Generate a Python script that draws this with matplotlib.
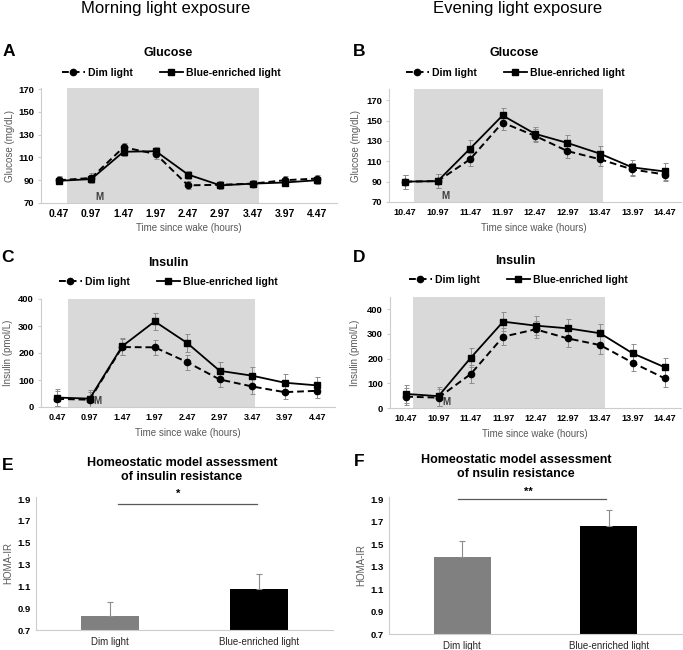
import numpy as np
import matplotlib
matplotlib.use('Agg')
import matplotlib.pyplot as plt

plt.rcParams['font.family'] = ['Liberation Sans', 'DejaVu Sans']

W, H = 683, 650

# --- data ---
morning_times = ['0.47', '0.97', '1.47', '1.97', '2.47', '2.97', '3.47', '3.97', '4.47']
evening_times = ['10.47', '10.97', '11.47', '11.97', '12.47', '12.97', '13.47', '13.97', '14.47']

glu_morning_dim = [90, 92, 119, 113, 85.5, 86, 87, 90, 91.5]
glu_morning_dim_err = [3.5, 4, 4, 4, 3.5, 3, 3, 3.5, 3.5]
glu_morning_blue = [89.5, 91, 115, 115.5, 95, 85.5, 87, 88, 90]
glu_morning_blue_err = [3, 3.5, 3.5, 3.5, 3.5, 3, 3, 3, 3]

glu_evening_dim = [90, 90.5, 112, 148, 135, 120, 112, 102, 97]
glu_evening_dim_err = [7, 7, 6.5, 7, 6.5, 6.5, 6.5, 6, 6.5]
glu_evening_blue = [90, 90.5, 122.5, 155, 137, 128, 117.5, 104, 100]
glu_evening_blue_err = [7, 7, 8, 7.5, 7, 8, 7.5, 7, 8]

ins_morning_dim = [30, 27, 222, 221, 166, 102, 76, 55, 60]
ins_morning_dim_err = [28, 28, 30, 29, 28, 27, 27, 27, 27]
ins_morning_blue = [35, 31, 225, 317, 237, 134, 116, 90, 80]
ins_morning_blue_err = [32, 32, 32, 32, 32, 32, 32, 32, 32]

ins_evening_dim = [46, 42, 138, 289, 319, 282, 255, 184, 120]
ins_evening_dim_err = [35, 35, 35, 35, 35, 35, 35, 35, 35]
ins_evening_blue = [57, 48, 204, 350, 334, 323, 303, 222, 165]
ins_evening_blue_err = [38, 38, 38, 38, 38, 38, 38, 38, 38]

bar_groups = ['Dim light', 'Blue-enriched light']
homa_morning = [0.83, 1.08]
homa_morning_err = [0.125, 0.13]
homa_evening = [1.39, 1.665]
homa_evening_err = [0.14, 0.135]

GRAY_BAND = '#d9d9d9'
SPINE = '#cccccc'
LABEL_GRAY = '#595959'


def px_axes(fig, left, top, right, bottom):
    return fig.add_axes([left / W, 1 - bottom / H, (right - left) / W, (bottom - top) / H])


def fig_text(fig, x, y, s, **kw):
    fig.text(x / W, 1 - y / H, s, ha=kw.pop('ha', 'center'), va=kw.pop('va', 'center'), **kw)


def style_axes(ax):
    for side in ('top', 'right'):
        ax.spines[side].set_visible(False)
    for side in ('left', 'bottom'):
        ax.spines[side].set_color(SPINE)
        ax.spines[side].set_linewidth(0.8)


def line_panel(fig, box, times, dim, dim_err, blue, blue_err, ylim, yticks, ylabel,
               band, xlim, legend_xy, ylabel_x, xlabel_xy, xtick_size=6.5):
    ax = px_axes(fig, *box)
    style_axes(ax)
    x = np.arange(len(times))
    ax.axvspan(band[0], band[1], color=GRAY_BAND, lw=0, zorder=0)

    ax.errorbar(x, dim, yerr=dim_err, fmt='none', ecolor='#8c8c8c', elinewidth=0.7,
                capsize=1.8, capthick=0.7, zorder=2)
    ax.errorbar(x, blue, yerr=blue_err, fmt='none', ecolor='#8c8c8c', elinewidth=0.7,
                capsize=1.8, capthick=0.7, zorder=2)
    ax.plot(x, dim, ls=(0, (3.5, 2)), lw=1.4, color='black', marker='o', ms=4.5,
            label='Dim light', zorder=3)
    ax.plot(x, blue, ls='-', lw=1.3, color='black', marker='s', ms=4.8,
            label='Blue-enriched light', zorder=4)

    ax.set_xlim(*xlim)
    ax.set_ylim(*ylim)
    ax.set_xticks(x)
    ax.set_xticklabels(times, fontsize=xtick_size, fontweight='bold')
    ax.set_yticks(yticks)
    ax.set_yticklabels([str(t) for t in yticks], fontsize=6.8, fontweight='bold')
    ax.tick_params(axis='x', length=0, pad=4)
    ax.tick_params(axis='y', length=2, color=SPINE, pad=3)

    # the "M" (meal) marker just above the x axis
    ax.text(1.25, ylim[0] + 0.005 * (ylim[1] - ylim[0]), 'M', fontsize=7, fontweight='bold',
            color='#404040', ha='center', va='bottom', zorder=5)

    ax.legend(loc='center', bbox_to_anchor=(legend_xy[0] / W, 1 - legend_xy[1] / H),
              bbox_transform=fig.transFigure, ncol=2, frameon=False,
              prop={'weight': 'bold', 'size': 7.5}, handlelength=2.2,
              columnspacing=2.6, handletextpad=0.3, borderpad=0)
    fig_text(fig, ylabel_x, (box[1] + box[3]) / 2, ylabel, fontsize=7, color=LABEL_GRAY,
             rotation=90)
    fig_text(fig, xlabel_xy[0], xlabel_xy[1], 'Time since wake (hours)', fontsize=7,
             color=LABEL_GRAY)
    return ax


def bar_panel(fig, box, vals, errs, sig_span, sig_y, star, star_xy, title, title_xy, ylabel_x):
    ax = px_axes(fig, *box)
    style_axes(ax)
    x = np.arange(len(bar_groups))
    ax.bar(x, vals, width=0.39, color=['#808080', '#000000'], zorder=2,
           yerr=[[0] * len(errs), errs],
           error_kw=dict(ecolor='#8c8c8c', elinewidth=0.8, capsize=2, capthick=0.8))
    ax.set_xlim(-0.5, 1.5)
    ax.set_ylim(0.7, 1.92)
    yt = [0.7, 0.9, 1.1, 1.3, 1.5, 1.7, 1.9]
    ax.set_yticks(yt)
    ax.set_yticklabels(['%.1f' % t for t in yt], fontsize=6.8, fontweight='bold')
    ax.set_xticks(x)
    ax.set_xticklabels(bar_groups, fontsize=7, color='#262626')
    ax.tick_params(axis='x', length=0, pad=5)
    ax.tick_params(axis='y', length=0, pad=4)
    ax.plot(sig_span, [sig_y, sig_y], color='#595959', lw=0.9, clip_on=False)
    fig_text(fig, ylabel_x, (box[1] + box[3]) / 2, 'HOMA-IR', fontsize=7, color=LABEL_GRAY,
             rotation=90)
    fig_text(fig, star_xy[0], star_xy[1], star, fontsize=8, fontweight='bold')
    fig_text(fig, title_xy[0], title_xy[1], title, fontsize=9, fontweight='bold',
             linespacing=1.25)
    return ax


fig = plt.figure(figsize=(W / 100, H / 100), dpi=100)

fig_text(fig, 166, 8, 'Morning light exposure', fontsize=12)
fig_text(fig, 518, 8, 'Evening light exposure', fontsize=12)

# A: glucose, morning
line_panel(fig, (41, 88, 337, 203), morning_times, glu_morning_dim, glu_morning_dim_err,
           glu_morning_blue, glu_morning_blue_err, (70, 171), [70, 90, 110, 130, 150, 170],
           'Glucose (mg/dL)', (0.25, 6.2), (-0.56, 8.62), (171, 73), 10, (189, 228),
           xtick_size=7.5)
fig_text(fig, 168, 53, 'Glucose', fontsize=9, fontweight='bold')

# B: glucose, evening
line_panel(fig, (389, 89, 681, 202), evening_times, glu_evening_dim, glu_evening_dim_err,
           glu_evening_blue, glu_evening_blue_err, (70, 181), [70, 90, 110, 130, 150, 170],
           'Glucose (mg/dL)', (0.28, 6.1), (-0.5, 8.5), (515, 73), 356, (534, 228))
fig_text(fig, 514, 53, 'Glucose', fontsize=9, fontweight='bold')

# C: insulin, morning
line_panel(fig, (41, 299, 335, 407), morning_times, ins_morning_dim, ins_morning_dim_err,
           ins_morning_blue, ins_morning_blue_err, (0, 400), [0, 100, 200, 300, 400],
           'Insulin (pmol/L)', (0.32, 6.1), (-0.5, 8.55), (168, 282), 8, (188, 433))
fig_text(fig, 168, 263, 'Insulin', fontsize=9, fontweight='bold')

# D: insulin, evening
line_panel(fig, (390, 297, 681, 408), evening_times, ins_evening_dim, ins_evening_dim_err,
           ins_evening_blue, ins_evening_blue_err, (0, 450), [0, 100, 200, 300, 400],
           'Insulin (pmol/L)', (0.2, 6.15), (-0.5, 8.5), (518, 280), 355, (535, 434))
fig_text(fig, 515, 261, 'Insulin', fontsize=9, fontweight='bold')

# E, F: HOMA-IR
bar_panel(fig, (36, 497, 333, 630), homa_morning, homa_morning_err, [0.05, 0.99], 1.86,
          '*', (178, 494), 'Homeostatic model assessment\nof insulin resistance', (182, 470), 8)
bar_panel(fig, (389, 497, 682, 634), homa_evening, homa_evening_err, [-0.03, 0.98], 1.90,
          '**', (528, 492), 'Homeostatic model assessment\nof nsulin resistance', (516, 467),
          361)

for letter, (lx, ly) in zip('ABCDEF', [(9, 51), (359, 51), (8, 258), (359, 258),
                                      (8, 465), (359, 462)]):
    fig_text(fig, lx, ly, letter, fontsize=12.5, fontweight='bold')

fig.savefig('out.png', dpi=100)
